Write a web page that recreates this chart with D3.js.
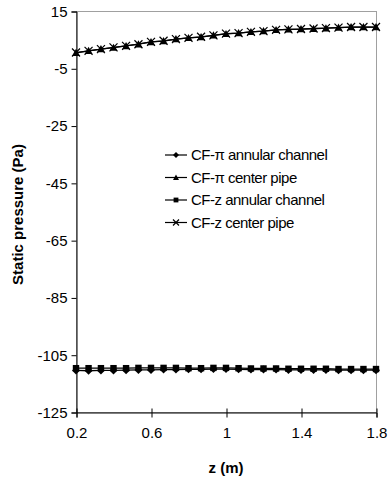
<!DOCTYPE html>
<html>
<head>
<meta charset="utf-8">
<script src="https://cdn.jsdelivr.net/npm/d3@7"></script>
<style>
  body { margin: 0; background: #fff; }
  svg { display: block; font-family: "Liberation Sans", Arial, sans-serif; }
</style>
</head>
<body>
<script>
// z positions along the pipe (m)
zVals = [0.2, 0.267, 0.333, 0.4, 0.467, 0.533, 0.6, 0.667, 0.733, 0.8, 0.867, 0.933, 1.0,
         1.067, 1.133, 1.2, 1.267, 1.333, 1.4, 1.467, 1.533, 1.6, 1.667, 1.733, 1.8]

// static pressure (Pa) for each case
piAnnular = [-110.5, -110.6, -110.5, -110.5, -110.4, -110.3, -110.3, -110.2, -110.2, -110.1, -110.1, -110.0, -110.0,
             -110.1, -110.2, -110.2, -110.2, -110.3, -110.3, -110.3, -110.3, -110.4, -110.4, -110.4, -110.4]
piCenter = [0.4, 1.1, 1.7, 2.2, 2.8, 3.4, 4.2, 4.5, 5.2, 5.6, 5.9, 6.5, 7.0,
            7.3, 7.7, 8.0, 8.4, 8.6, 8.7, 8.8, 9.0, 9.2, 9.4, 9.4, 9.4]
zAnnular = [-109.7, -109.7, -109.7, -109.7, -109.7, -109.6, -109.6, -109.6, -109.6, -109.7, -109.7, -109.6, -109.6,
            -109.7, -109.8, -109.8, -109.8, -109.9, -109.9, -109.9, -109.9, -110.0, -110.0, -110.0, -110.0]
zCenter = [0.5, 1.1, 1.7, 2.3, 2.8, 3.4, 4.2, 4.6, 5.2, 5.6, 6.0, 6.5, 7.1,
           7.3, 7.7, 8.0, 8.4, 8.6, 8.7, 8.9, 9.0, 9.2, 9.4, 9.4, 9.4]

seriesNames = ["CF-\u03c0 annular channel", "CF-\u03c0 center pipe", "CF-z annular channel", "CF-z center pipe"]
seriesMarks = ["diamond", "triangle", "square", "cross"]
seriesVals = [piAnnular, piCenter, zAnnular, zCenter]

xTicks = [0.2, 0.6, 1, 1.4, 1.8]
yTicks = [15, -5, -25, -45, -65, -85, -105, -125]

var W = 390
var H = 482
var plotL = 76
var plotR = 376
var plotT = 11
var plotB = 412

var x = d3.scaleLinear().domain([0.2, 1.8]).range([plotL, plotR])
var y = d3.scaleLinear().domain([-125, 15]).range([plotB, plotT])

var svg = d3.select("body").append("svg")
    .attr("width", W)
    .attr("height", H)

// plot area border (gray on top/right like excel)
svg.append("rect")
    .attr("x", plotL + 0.5).attr("y", plotT + 0.5)
    .attr("width", plotR - plotL).attr("height", plotB - plotT)
    .attr("fill", "none").attr("stroke", "#a0a0a0").attr("stroke-width", 1)

svg.append("g")
    .attr("transform", `translate(0.5,${plotB + 0.5})`)
    .call(d3.axisBottom(x).tickValues(xTicks).tickSize(5).tickPadding(10).tickFormat(d => String(d)))
    .call(g => g.selectAll("text").attr("font-size", 15).attr("font-family", "Liberation Sans, Arial, sans-serif").attr("fill", "#000"))
    .call(g => g.selectAll(".tick line").attr("y1", -4))

svg.append("g")
    .attr("transform", `translate(${plotL + 0.5},0.5)`)
    .call(d3.axisLeft(y).tickValues(yTicks).tickSize(5).tickPadding(4).tickFormat(d => String(d)))
    .call(g => g.selectAll("text").attr("font-size", 15).attr("font-family", "Liberation Sans, Arial, sans-serif").attr("fill", "#000"))

// marker drawing
function marker(sel, type, s) {
  if (type == "diamond") {
    sel.append("path").attr("d", `M0,${-s}L${s},0L0,${s}L${-s},0Z`).attr("fill", "#000")
  } else if (type == "triangle") {
    sel.append("path").attr("d", `M0,${-s}L${s},${s * 0.8}L${-s},${s * 0.8}Z`).attr("fill", "#000")
  } else if (type == "square") {
    sel.append("rect").attr("x", -s * 0.8).attr("y", -s * 0.8).attr("width", s * 1.6).attr("height", s * 1.6).attr("fill", "#000")
  } else {
    sel.append("path").attr("d", `M${-s},${-s}L${s},${s}M${-s},${s}L${s},${-s}`).attr("stroke", "#000").attr("stroke-width", 1.2)
  }
}

var line = d3.line().x((d, i) => x(zVals[i])).y(d => y(d))

seriesVals.forEach(function(vals, k) {
  svg.append("path")
      .attr("d", line(vals))
      .attr("fill", "none")
      .attr("stroke", "#000")
      .attr("stroke-width", 1.3)
  svg.append("g").selectAll("g")
    .data(vals)
    .join("g")
      .attr("transform", (d, i) => `translate(${x(zVals[i])},${y(d)})`)
      .each(function() { marker(d3.select(this), seriesMarks[k], 4) })
})

// legend
const rows = svg.append("g")
  .selectAll("g")
  .data(seriesNames)
  .join("g")
    .attr("transform", (d, i) => `translate(165, ${155 + i * 22.5})`)

rows.append("line")
    .attr("x1", 0).attr("x2", 22)
    .attr("stroke", "#000").attr("stroke-width", 1.2)
rows.each(function(d, i) {
  const g = d3.select(this).append("g").attr("transform", "translate(11,0)")
  marker(g, seriesMarks[i], 3)
})
rows.append("text")
    .attr("x", 26)
    .attr("dy", "0.35em")
    .attr("font-size", 15)
    .attr("letter-spacing", -0.5)
    .text(d => d)

// axis titles
svg.append("text")
    .attr("x", (plotL + plotR) / 2)
    .attr("y", 473)
    .attr("text-anchor", "middle")
    .attr("font-size", 15)
    .attr("font-weight", "bold")
    .text("z (m)")

svg.append("text")
    .attr("transform", `translate(23,${(plotT + plotB) / 2 + 3}) rotate(-90)`)
    .attr("text-anchor", "middle")
    .attr("font-size", 15)
    .attr("font-weight", "bold")
    .text("Static pressure (Pa)")
</script>
</body>
</html>
